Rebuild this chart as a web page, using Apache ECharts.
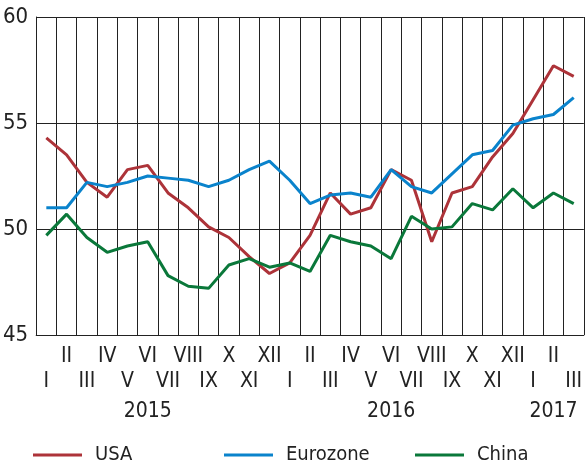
<!doctype html>
<html>
<head>
<meta charset="utf-8">
<script src="https://cdn.jsdelivr.net/npm/echarts@6/dist/echarts.min.js"></script>
<style>
    body { margin: 0; background: #fff; }
    #pmiChart { width: 585px; height: 469px; }
</style>
</head>
<body>
<div id="pmiChart"></div>
<script>
    // months Jan 2015 .. Mar 2017
    let months = ['I', 'II', 'III', 'IV', 'V', 'VI', 'VII', 'VIII', 'IX', 'X', 'XI', 'XII',
        'I', 'II', 'III', 'IV', 'V', 'VI', 'VII', 'VIII', 'IX', 'X', 'XI', 'XII',
        'I', 'II', 'III'];
    let years = ['2015', '2016', '2017'];
    let yearIndex = [5, 17, 25];

    let usa = [54.3, 53.5, 52.2, 51.5, 52.8, 53.0, 51.7, 51.0, 50.1, 49.6, 48.7, 47.9,
        48.4, 49.7, 51.7, 50.7, 51.0, 52.8, 52.3, 49.4, 51.7, 52.0, 53.4, 54.5,
        56.1, 57.7, 57.2];
    let eurozone = [51.0, 51.0, 52.2, 52.0, 52.2, 52.5, 52.4, 52.3, 52.0, 52.3, 52.8, 53.2,
        52.3, 51.2, 51.6, 51.7, 51.5, 52.8, 52.0, 51.7, 52.6, 53.5, 53.7, 54.9,
        55.2, 55.4, 56.2];
    let china = [49.7, 50.7, 49.6, 48.9, 49.2, 49.4, 47.8, 47.3, 47.2, 48.3, 48.6, 48.2,
        48.4, 48.0, 49.7, 49.4, 49.2, 48.6, 50.6, 50.0, 50.1, 51.2, 50.9, 51.9,
        51.0, 51.7, 51.2];

    let font = '"Liberation Sans Narrow", "DejaVu Sans Condensed", sans-serif';
    let ink = '#222';

    function legendAt(name, left) {
        return {
            data: [name],
            left: left,
            top: 444,
            padding: 0,
            icon: 'rect',
            itemWidth: 49,
            itemHeight: 3,
            selectedMode: false,
            textStyle: {fontFamily: font, fontSize: 20, color: ink, padding: [0, 0, 0, 8], lineHeight: 22}
        };
    }

    let kChart = echarts.init(document.getElementById('pmiChart'));
    kChart.setOption({
        animation: false,
        grid: {left: 36, right: -2, top: 17, bottom: 134},
        legend: [legendAt('USA', 33), legendAt('Eurozone', 224), legendAt('China', 415)],
        xAxis: [{
            type: 'category',
            data: months,
            boundaryGap: true,
            axisLine: {lineStyle: {color: ink, width: 1}},
            axisTick: {show: false},
            splitLine: {show: true, interval: 0, lineStyle: {color: ink, width: 1}},
            axisLabel: {
                interval: 0,
                margin: 9,
                fontFamily: font,
                fontSize: 21,
                color: ink,
                lineHeight: 25,
                formatter: function (value, index) {
                    // odd months go in the lower row
                    return index % 2 == 0 ? '\n' + value : value;
                }
            }
        }, {
            type: 'category',
            data: months,
            position: 'bottom',
            offset: 56,
            axisLine: {show: false},
            axisTick: {show: false},
            axisLabel: {
                interval: function (index) {
                    return yearIndex.indexOf(index) >= 0;
                },
                margin: 8,
                fontFamily: font,
                fontSize: 21,
                color: ink,
                lineHeight: 25,
                formatter: function (value, index) {
                    let k = yearIndex.indexOf(index);
                    return k >= 0 ? years[k] : '';
                }
            }
        }],
        yAxis: {
            type: 'value',
            min: 45,
            max: 60,
            interval: 5,
            axisLine: {show: true, lineStyle: {color: ink, width: 1}},
            axisTick: {show: false},
            splitLine: {lineStyle: {color: ink, width: 1}},
            axisLabel: {margin: 8, fontFamily: font, fontSize: 22, color: ink}
        },
        series: [
            {name: 'USA', type: 'line', data: usa, symbol: 'none', color: '#ad3339', lineStyle: {width: 3}},
            {name: 'Eurozone', type: 'line', data: eurozone, symbol: 'none', color: '#0a83cc', lineStyle: {width: 3}},
            {name: 'China', type: 'line', data: china, symbol: 'none', color: '#0a783a', lineStyle: {width: 3}}
        ]
    });
</script>
</body>
</html>
